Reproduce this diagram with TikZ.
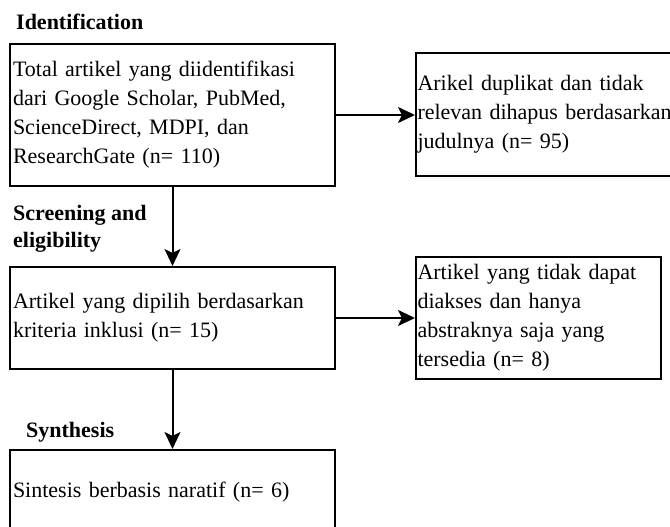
\documentclass[tikz,border=0pt]{standalone}
\usepackage{fontspec}
\setmainfont{Liberation Serif}
\usetikzlibrary{arrows.meta}
\begin{document}
\begin{tikzpicture}[x=1pt,y=-1pt,
  box/.style={draw=black, line width=2pt, rectangle, align=left,
    font=\fontsize{22}{29}\selectfont, inner ysep=0pt},
  head/.style={inner sep=0pt, font=\fontsize{22}{27.5}\selectfont\bfseries, align=left},
  conn/.style={line width=2pt, -{Stealth[length=17pt,width=16pt,inset=4pt]}}]
\useasboundingbox (0,0) rectangle (670,527);
\node[head, anchor=base west] (h1) at (16,30) {Identification};
\node[box, inner xsep=3pt, text width=319pt, minimum height=142pt] (b1) at (172.5,115)
  {Total artikel yang diidentifikasi\\dari Google Scholar, PubMed,\\ScienceDirect, MDPI, dan\\ResearchGate (n= 110)};
\node[box, inner xsep=1.5pt, text width=265pt, minimum height=123pt] (b2) at (550,114.5)
  {Arikel duplikat dan tidak\\relevan dihapus berdasarkan\\judulnya (n= 95)};
\node[head, anchor=north west] (h2) at (13,205) {Screening and\\eligibility};
\node[box, inner xsep=3pt, text width=319pt, minimum height=102pt] (b3) at (172.5,318)
  {Artikel yang dipilih berdasarkan\\kriteria inklusi (n= 15)};
\node[box, inner xsep=1.5pt, text width=242pt, minimum height=122pt] (b4) at (538.5,318)
  {Artikel yang tidak dapat\\diakses dan hanya\\abstraknya saja yang\\tersedia (n= 8)};
\node[head, anchor=base west] (h3) at (26,437) {Synthesis};
\node[box, inner xsep=3pt, text width=319pt, minimum height=84pt] (b5) at (172.5,492)
  {Sintesis berbasis naratif (n= 6)};
\draw[conn] (b1.east) -- (b2.west |- b1.east);
\draw[conn] (b1.south) -- (b3.north);
\draw[conn] (b3.east) -- (b4.west |- b3.east);
\draw[conn] (b3.south) -- (b5.north);
\end{tikzpicture}
\end{document}
